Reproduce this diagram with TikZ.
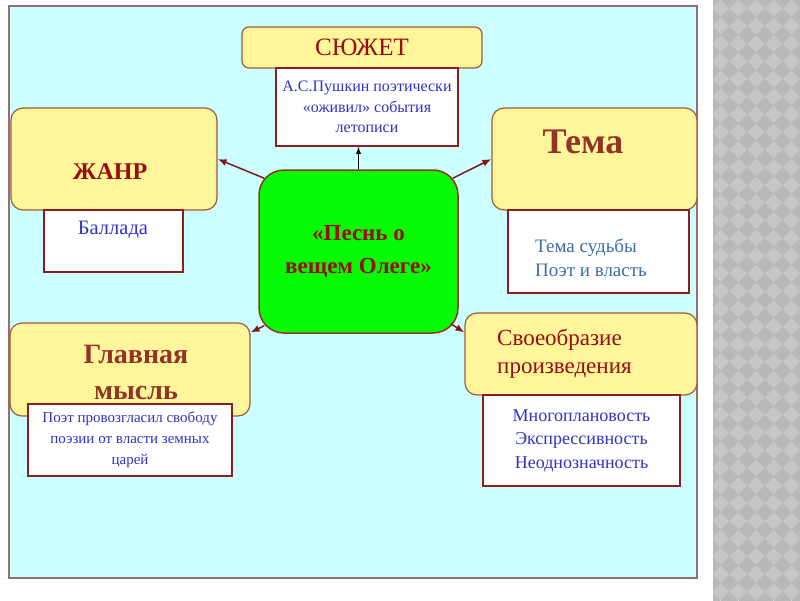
\documentclass[tikz,border=0pt]{standalone}
\usepackage{fontspec}
\setmainfont{Liberation Serif}
\usepackage{xcolor}
\usetikzlibrary{arrows.meta}
\definecolor{bgcyan}{RGB}{204,255,255}
\definecolor{framebrd}{RGB}{150,110,110}
\definecolor{greylight}{RGB}{198,198,198}
\definecolor{greydark}{RGB}{184,184,184}
\definecolor{yfill}{RGB}{255,245,155}
\definecolor{ybrd}{RGB}{160,90,60}
\definecolor{wbrd}{RGB}{140,30,30}
\definecolor{pgreen}{RGB}{5,250,5}
\definecolor{hred}{RGB}{155,12,12}
\definecolor{hbrown}{RGB}{145,52,38}
\definecolor{tblue}{RGB}{50,50,200}
\definecolor{tsteel}{RGB}{60,110,170}
\definecolor{arrred}{RGB}{130,25,25}
\newcommand{\fsz}[2]{\fontsize{#1}{#2}\selectfont}

\begin{document}
\begin{tikzpicture}[x=1pt,y=-1pt,
ybox/.style={rounded corners=12pt,draw=ybrd,fill=yfill,line width=1.2pt,inner sep=0pt},
wbox/.style={draw=wbrd,fill=white,line width=1.5pt,inner sep=0pt,align=center,text=tblue},
head/.style={inner sep=0pt,align=center},
arr/.style={-{Latex[length=9pt,width=7pt]},draw=arrred,line width=1.5pt}]
\useasboundingbox (0,0) rectangle (800,600);
\fill[white] (0,0) rectangle (800,600);
\begin{scope}
\clip (713,0) rectangle (800,600);
\fill[greylight] (713,0) rectangle (800,600);
\begin{scope}[shift={(756,300)},rotate=45]
\foreach \i in {-25,...,25}{\foreach \j in {-25,...,25}{%
\ifodd\numexpr\i+\j+100\relax\else\fill[greydark] (\i*12.5,\j*12.5) rectangle ++(12.5,12.5);\fi}}
\end{scope}
\end{scope}
\draw[fill=bgcyan,draw=framebrd,line width=1.2pt] (9,6) rectangle (697,578);
\node[ybox,rounded corners=7pt,minimum width=240,minimum height=41,font=\fsz{25}{28},text=hred] (S) at (362,47.5) {СЮЖЕТ};
\node[ybox,minimum width=206,minimum height=102] (Zh) at (114,159) {};
\node[ybox,minimum width=205,minimum height=102] (T) at (594.5,159) {};
\node[ybox,minimum width=240,minimum height=93] (M) at (130,369.5) {};
\node[ybox,minimum width=232,minimum height=82] (Sv) at (581,354) {};
\node[wbox,minimum width=182,minimum height=78,font=\fsz{16}{20.5}] (S2) at (367,107) {А.С.Пушкин поэтически\\«оживил» события\\летописи};
\node[wbox,minimum width=139,minimum height=62] (Zh2) at (113.5,241) {};
\node[wbox,minimum width=181,minimum height=83] (T2) at (598.5,251.5) {};
\node[wbox,minimum width=204,minimum height=72,font=\fsz{15}{21}] (M2) at (130,440) {Поэт провозгласил свободу\\поэзии от власти земных\\царей};
\node[wbox,minimum width=197,minimum height=91,font=\fsz{18}{23.5}] (Sv2) at (581.5,440.5) {Многоплановость\\Экспрессивность\\Неоднозначность};
\node[rounded corners=25pt,draw=hbrown,fill=pgreen,line width=1.5pt,minimum width=199,minimum height=163,align=center,font=\bfseries\fsz{23}{33},text=hred] (P) at (358.5,251.5) {«Песнь о\\вещем Олеге»};
\node[head,font=\bfseries\fsz{24}{28},text=hred] (ZhH) at (110,172) {ЖАНР};
\node[head,font=\bfseries\fsz{36}{40},text=hbrown] (TH) at (583,142) {Тема};
\node[head,font=\bfseries\fsz{28}{36},text=hbrown] (MH) at (136,372) {Главная\\мысль};
\node[head,align=left,anchor=west,font=\fsz{23}{28},text=hred] (SvH) at (497,354) {Своеобразие\\произведения};
\node[head,font=\fsz{20.5}{24},text=tblue] (Zh2T) at (113,230) {Баллада};
\node[head,align=left,anchor=west,font=\fsz{19}{24},text=tsteel] (T2T) at (535,258) {Тема судьбы\\Поэт и власть};
\draw[-{Latex[length=7pt,width=5pt]},line width=0.8pt] (P.north) -- (P.north |- S2.south);
\draw[arr] ([xshift=6pt,yshift=-9pt]P.north west) -- (Zh.east);
\draw[arr] ([xshift=-6pt,yshift=-9pt]P.north east) -- (T.west);
\draw[arr] ([xshift=6pt,yshift=8pt]P.south west) -- ([yshift=-10pt]M.north east);
\draw[arr] ([xshift=-8pt,yshift=10pt]P.south east) -- ([yshift=-20pt]Sv.north west);
\end{tikzpicture}
\end{document}
